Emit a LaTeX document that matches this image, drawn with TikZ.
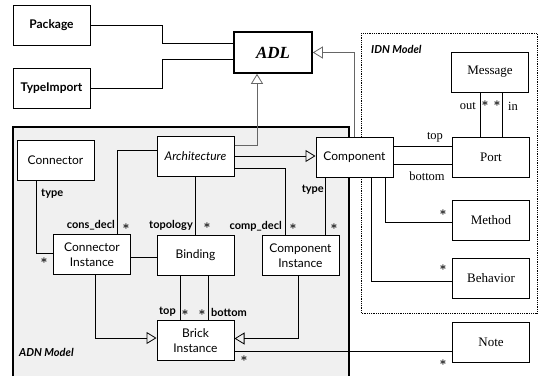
\documentclass[tikz,border=0pt]{standalone}
\usepackage{fontspec}
\setmainfont{Liberation Serif}
\setsansfont{Lato}
\usetikzlibrary{arrows.meta}

\begin{document}
\begin{tikzpicture}[x=1pt, y=-1pt,
  caja/.style={draw, line width=1pt, fill=white, minimum width=77pt, minimum height=40pt, inner sep=1pt, align=center},
  adncaja/.style={caja, font=\sffamily\fontsize{12}{15}\selectfont},
  idncaja/.style={caja, font=\fontsize{13}{15}\selectfont},
  rol/.style={font=\sffamily\bfseries\fontsize{11}{12}\selectfont, inner sep=0pt},
  idnrol/.style={font=\fontsize{12.5}{14}\selectfont, inner sep=0pt},
  mult/.style={font=\large\boldmath, inner sep=0pt},
  enlace/.style={line width=0.8pt},
  hereda/.style={line width=0.8pt, -{Triangle[open, length=10pt, width=12pt]}},
  modelo/.style={font=\sffamily\bfseries\itshape\fontsize{11}{12}\selectfont, inner sep=0pt, anchor=west}
]

\useasboundingbox (0,0) rectangle (538,376);

% Modelo ADN
\fill[black!6] (13,127) rectangle (349,376);
\draw[line width=1.6pt] (13,376) -- (13,127) -- (349,127) -- (349,376);
\node[modelo] (adnlbl) at (19,352) {ADN Model};

% Modelo IDN
\draw[densely dotted, line width=0.8pt] (361,33) rectangle (537,313);
\node[modelo] (idnlbl) at (371,49) {IDN Model};

% Cajas de arriba
\node[caja, font=\sffamily\bfseries\fontsize{12}{14}\selectfont] (pkg) at (51.5,25) {Package};
\node[caja, font=\sffamily\bfseries\fontsize{12}{14}\selectfont] (timp) at (51.5,88) {TypeImport};
\node[caja, line width=1.6pt, minimum width=78pt, minimum height=41pt,
      font=\bfseries\itshape\fontsize{17}{19}\selectfont] (adl) at (273,52.5) {ADL};

% Cajas ADN
\node[adncaja] (conn) at (55.5,160) {Connector};
\node[adncaja, font=\sffamily\itshape\fontsize{12}{15}\selectfont] (arch) at (195.5,156) {Architecture};
\node[adncaja] (comp) at (354.5,157.5) {Component};
\node[adncaja] (cninst) at (92,254.5) {Connector\\Instance};
\node[adncaja] (bind) at (195.5,255) {Binding};
\node[adncaja] (cpinst) at (300.5,255.5) {Component\\Instance};
\node[adncaja] (brick) at (195.5,340.5) {Brick\\Instance};

% Cajas IDN
\node[idncaja] (msg) at (490,72) {Message};
\node[idncaja] (port) at (491,157.5) {Port};
\node[idncaja] (meth) at (491,220) {Method};
\node[idncaja] (behav) at (491,278) {Behavior};
\node[idncaja] (note) at (491,342) {Note};

% Enlaces con ADL
\draw[enlace] (pkg.east) -- ++(72,0) |- ([yshift=9.5pt]adl.west);
\draw[enlace] (timp.east) -- ++(72,0) |- ([yshift=-6.5pt]adl.west);
\draw[hereda, black!60] ([yshift=11pt]arch.east) -| ([xshift=-16pt]adl.south);
\draw[hereda, black!60] (comp.north) |- (adl.east);

% Enlaces ADN
\draw[hereda] (arch.east) -- (arch.east -| comp.west);
\draw[enlace] ([yshift=-12pt]arch.east) -| ([xshift=-15.5pt]cpinst.north);
\draw[enlace] ([yshift=6pt]arch.west) -| ([xshift=25pt]cninst.north);
\draw[enlace] (arch.south) -- (bind.north);
\draw[enlace] ([xshift=-19.5pt]conn.south) |- ([yshift=1.5pt]cninst.west);
\draw[enlace] ([yshift=-3pt]cninst.east) -- ([yshift=-3pt]cninst.east -| bind.west);
\draw[enlace] ([xshift=-15.5pt]bind.south) -- ([xshift=-15.5pt]brick.north);
\draw[enlace] ([xshift=12.5pt]bind.south) -- ([xshift=12.5pt]brick.north);
\draw[hereda] ([xshift=3pt]cninst.south) |- ([yshift=2.5pt]brick.west);
\draw[hereda] ([xshift=-2pt]cpinst.south) |- ([yshift=2pt]brick.east);
\draw[enlace] ([xshift=-29pt]comp.south) -- ([xshift=-29pt]comp.south |- cpinst.north);
\draw[enlace] ([yshift=-10.5pt]brick.east) -- ([yshift=-10.5pt]brick.east -| note.west);

% Enlaces IDN
\draw[enlace] ([xshift=30.5pt]comp.south) |- ([yshift=-2pt]meth.west);
\draw[enlace] ([xshift=16.5pt]comp.south) |- ([yshift=-3pt]behav.west);
\draw[enlace] ([yshift=11.5pt]comp.east) -- ([yshift=11.5pt]comp.east -| port.west);
\draw[enlace] ([yshift=-6.5pt]comp.east) -- ([yshift=-6.5pt]comp.east -| port.west);
\draw[enlace] ([xshift=-10pt]msg.south) -- ([xshift=-10pt]msg.south |- port.north);
\draw[enlace] ([xshift=12pt]msg.south) -- ([xshift=12pt]msg.south |- port.north);

% Roles y multiplicidades
\node[rol, anchor=west] (rtype1) at (41,194) {type};
\node[mult] (m1) at (44,261) {$\ast$};
\node[rol, anchor=east] (rcons) at (115,225) {cons\_decl};
\node[mult] (m2) at (126,227) {$\ast$};
\node[rol, anchor=east] (rtopo) at (193,225) {topology};
\node[mult] (m3) at (207,226) {$\ast$};
\node[rol, anchor=east] (rcomp) at (282,226) {comp\_decl};
\node[mult] (m4) at (293,227) {$\ast$};
\node[rol, anchor=east] (rtype2) at (324,190) {type};
\node[mult] (m5) at (334,227) {$\ast$};
\node[rol, anchor=east] (rtop) at (176,312) {top};
\node[mult] (m6) at (185,313) {$\ast$};
\node[mult] (m7) at (202,313) {$\ast$};
\node[rol, anchor=west] (rbot) at (211,312) {bottom};
\node[mult] (m8) at (244,359) {$\ast$};
\node[mult] (m9) at (443,363) {$\ast$};
\node[mult] (m10) at (443,213) {$\ast$};
\node[mult] (m11) at (443,268) {$\ast$};
\node[idnrol] (ptop) at (435,137) {top};
\node[idnrol] (pbot) at (427,176) {bottom};
\node[idnrol, anchor=east] (pout) at (476,106) {out};
\node[mult] (m12) at (485,104) {$\ast$};
\node[mult] (m13) at (497,104) {$\ast$};
\node[idnrol, anchor=west] (pin) at (508,106) {in};

\end{tikzpicture}
\end{document}
